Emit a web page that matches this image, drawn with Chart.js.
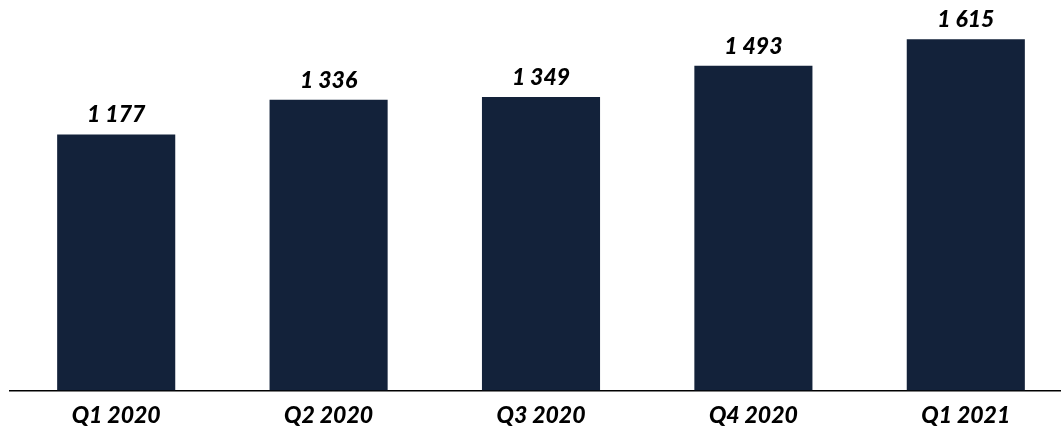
<!DOCTYPE html>
<html>
<head>
<meta charset="utf-8">
<script src="https://cdn.jsdelivr.net/npm/chart.js@4/dist/chart.umd.min.js"></script>
<style>
  html, body { margin: 0; padding: 0; background: #fff; overflow: hidden; }
  #wrap { width: 1072px; height: 446px; }
</style>
</head>
<body>
<div id="wrap"><canvas id="chart"></canvas></div>
<script>
const quarters = ['Q1 2020', 'Q2 2020', 'Q3 2020', 'Q4 2020', 'Q1 2021'];
const values = [1177, 1336, 1349, 1493, 1615];

const fontFamily = 'Lato, "Open Sans", sans-serif';

// number with space as thousands separator, like "1 177"
function fmt(v) {
    return String(v).replace(/\B(?=(\d{3})+(?!\d))/g, ' ');
}

const valueLabels = {
    id: 'value_labels',
    afterDatasetsDraw: (chart) => {
        const ctx = chart.ctx;
        const meta = chart.getDatasetMeta(0);
        ctx.save();
        ctx.font = 'italic 900 23px ' + fontFamily;
        ctx.fillStyle = '#000';
        ctx.textAlign = 'center';
        ctx.textBaseline = 'bottom';
        meta.data.forEach((bar, i) => {
            ctx.fillText(fmt(values[i]), bar.x, bar.y - 8);
        });
        ctx.restore();
    }
};

const ctx = document.querySelector('#chart').getContext('2d');
new Chart(ctx, {
    type: 'bar',
    data: {
        labels: quarters,
        datasets: [{
            data: values,
            backgroundColor: '#13223a',
            barPercentage: 0.556,
            categoryPercentage: 1
        }]
    },
    plugins: [valueLabels],
    options: {
        responsive: true,
        maintainAspectRatio: false,
        animation: false,
        layout: {
            padding: { left: 10, right: 0, top: 0, bottom: 6 }
        },
        scales: {
            x: {
                grid: { display: false, drawTicks: false },
                border: { display: true, color: '#000', width: 1.5 },
                ticks: {
                    color: '#000',
                    padding: 11,
                    font: { family: fontFamily, size: 23, style: 'italic', weight: 900 }
                }
            },
            y: {
                display: false,
                min: 0,
                max: 1795
            }
        },
        plugins: {
            legend: { display: false },
            tooltip: { enabled: false }
        }
    }
});
</script>
</body>
</html>
